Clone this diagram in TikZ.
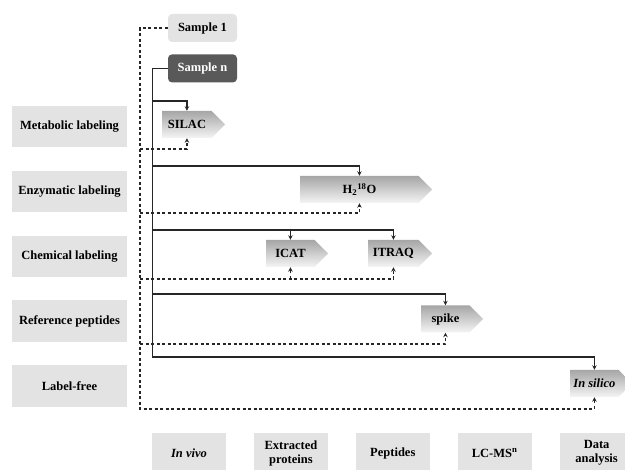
\documentclass[tikz,border=0pt]{standalone}
\usepackage{fontspec}
\setmainfont{Liberation Serif}
\usepackage{tikz}
\usetikzlibrary{arrows.meta,positioning,shapes.symbols}

\begin{document}
\begin{tikzpicture}[
    x=1pt, y=-1pt,
    node distance=23pt,
    every node/.style={font=\fontsize{12.5}{14}\selectfont\bfseries, align=center, inner sep=2pt},
    rowlabel/.style={fill=gray!22, minimum width=115.5pt, minimum height=41.5pt},
    stage/.style={fill=gray!22, minimum width=74pt, minimum height=40pt},
    sample/.style={rounded corners=4pt, minimum width=69pt, minimum height=28pt},
    method/.style={shape=signal, signal to=east, signal pointer angle=90, anchor=west,
      minimum height=27pt, top color=gray!70, bottom color=gray!8, draw=none},
    flow/.style={draw=gray!30!black, line width=1.1pt, -{Stealth[length=4.5pt,width=4.5pt]}},
    feed/.style={draw=gray!30!black, line width=1.1pt, dash pattern=on 3pt off 2.5pt, -{Stealth[length=4.5pt,width=4.5pt]}}
  ]
    \useasboundingbox (0,0) rectangle (625,470);

    % Samples
    \node[sample, fill=gray!22] (sample1) at (202.5,28) {Sample 1};
    \node[sample, fill=black!65, text=white, below=12pt of sample1] (samplen) {Sample n};

    % Rows (labeling strategies)
    \node[rowlabel] (metabolic) at (69.5,126.5) {Metabolic labeling};
    \node[rowlabel, below=of metabolic] (enzymatic) {Enzymatic labeling};
    \node[rowlabel, below=of enzymatic] (chemical) {Chemical labeling};
    \node[rowlabel, below=of chemical] (reference) {Reference peptides};
    \node[rowlabel, below=of reference] (labelfree) {Label-free};

    % Stages
    \node[stage] (invivo) at (189,453) {\itshape In vivo};
    \node[stage, right=27.5pt of invivo] (extracted) {Extracted\\proteins};
    \node[stage, right=27.5pt of extracted] (peptides) {Peptides};
    \node[stage, right=27.5pt of peptides] (lcms) {LC-MS\textsuperscript{n}};
    \node[stage, right=27.5pt of lcms] (analysis) {Data\\analysis};

    % Labels entering the workflow
    \node[method, minimum width=63pt] (silac) at (162,124.5) {SILAC};
    \node[method, minimum width=132pt] (water) at (300,189.5) {H\textsubscript{2}\textsuperscript{18}O};
    \node[method, minimum width=62pt] (icat) at (266,253.5) {ICAT};
    \node[method, minimum width=64pt] (itraq) at (368,253.5) {ITRAQ};
    \node[method, minimum width=62pt] (spike) at (421,319) {spike};
    \node[method, minimum width=62pt] (insilico) at (570,383.5) {\itshape In silico};

    % Solid trunk from sample n
    \coordinate (t1) at (152.5,101);
    \coordinate (t2) at (152.5,166);
    \coordinate (t3) at (152.5,230);
    \coordinate (t4) at (152.5,294);
    \coordinate (t5) at (152.5,357);
    \draw[flow] (samplen.west) -| (t5) -| (insilico.north);
    \draw[flow] (t1) -| (silac.north);
    \draw[flow] (t2) -| (water.north);
    \draw[flow] (t3) -| (itraq.north);
    \draw[flow] (icat.north |- t3) -- (icat.north);
    \draw[flow] (t4) -| (spike.north);

    % Dashed trunk from sample 1
    \coordinate (d1) at (140,149);
    \coordinate (d2) at (140,213);
    \coordinate (d3) at (140,279);
    \coordinate (d4) at (140,344);
    \coordinate (d5) at (140,409);
    \draw[feed] (sample1.west) -| (d5) -| (insilico.south);
    \draw[feed] (d1) -| (silac.south);
    \draw[feed] (d2) -| (water.south);
    \draw[feed] (d3) -| (itraq.south);
    \draw[feed] (icat.south |- d3) -- (icat.south);
    \draw[feed] (d4) -| (spike.south);

  \end{tikzpicture}
\end{document}
